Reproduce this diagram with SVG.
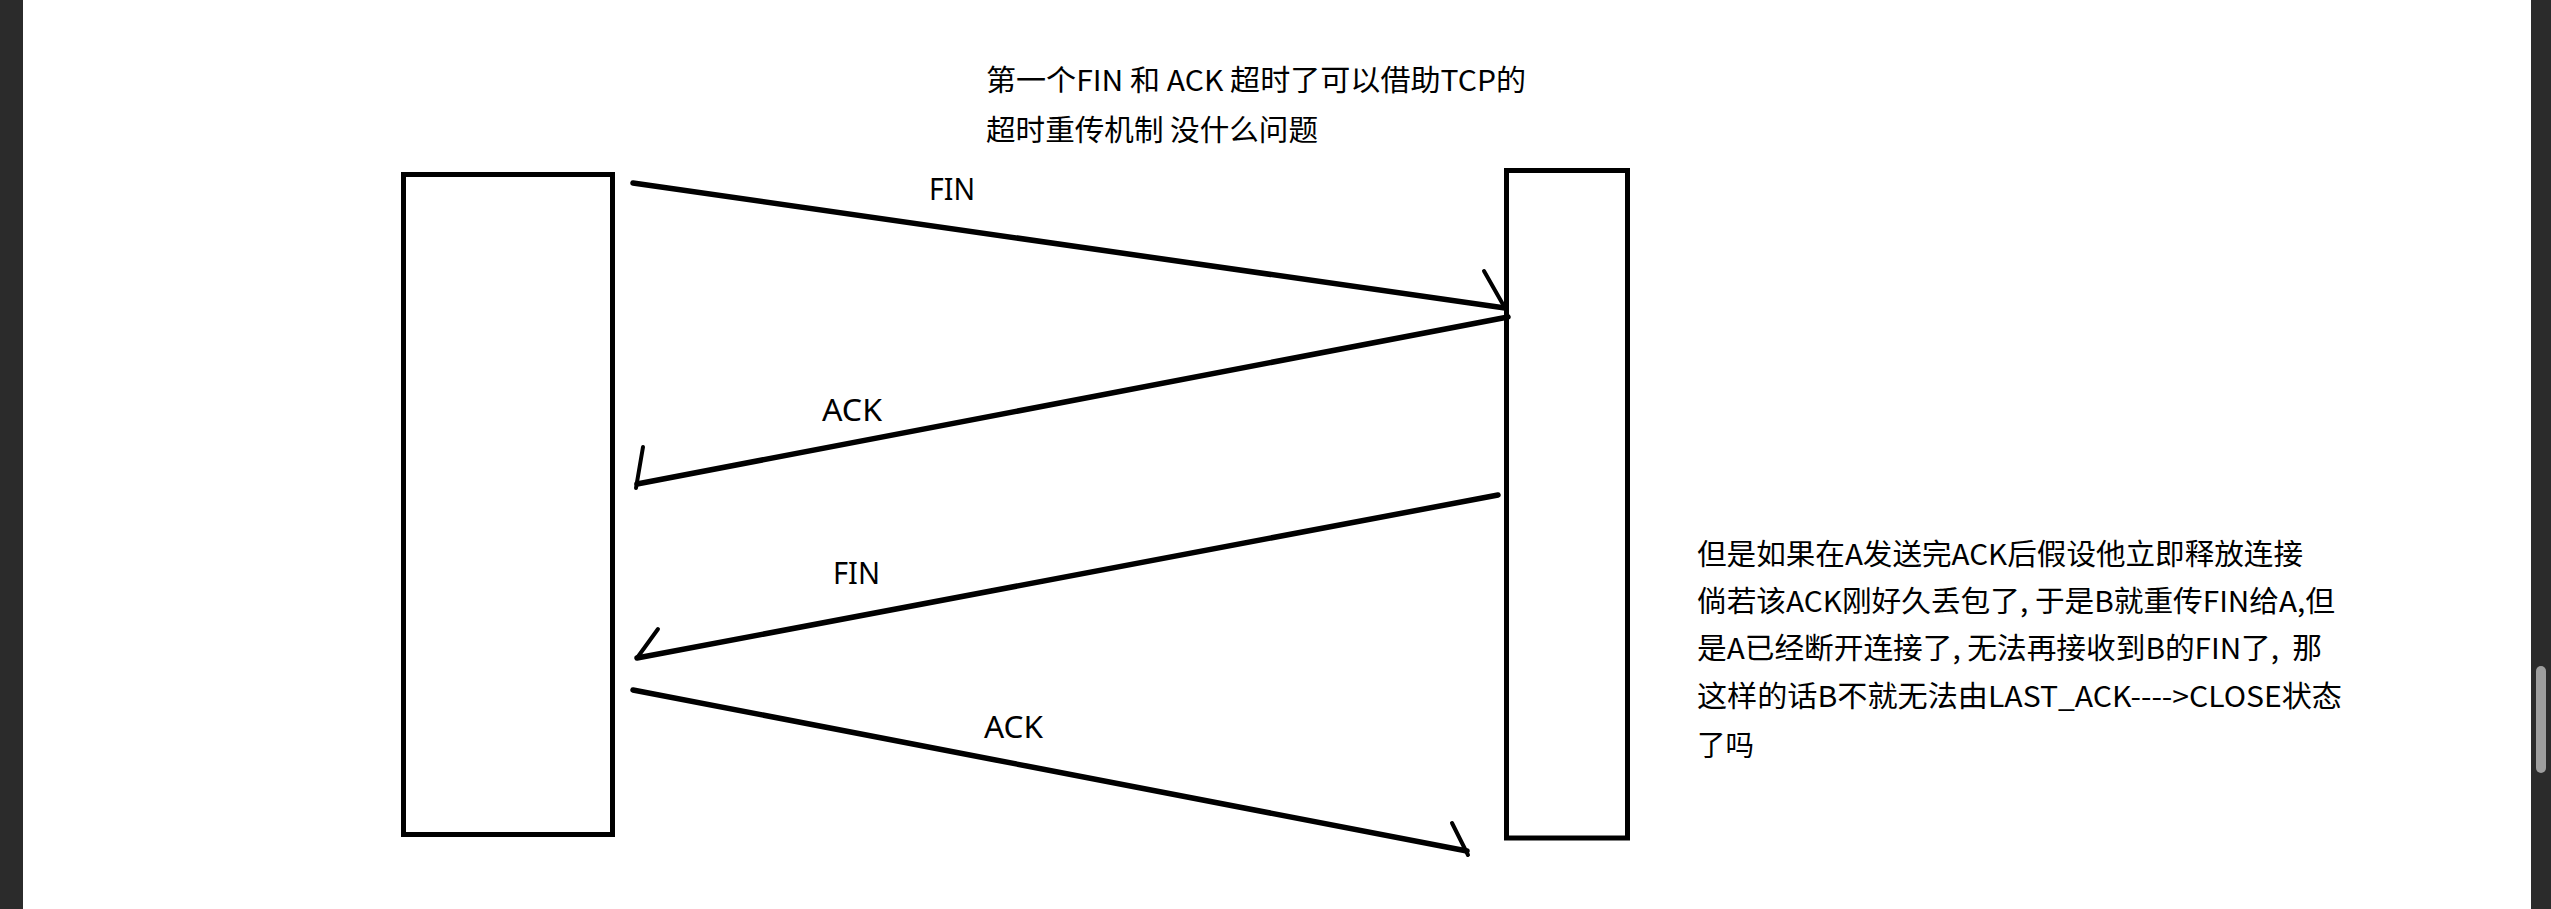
<svg xmlns="http://www.w3.org/2000/svg" width="2551" height="909" viewBox="0 0 2551 909">
<style>
.box{fill:#ffffff;stroke:#000000;stroke-width:5}
.line{fill:none;stroke:#000000;stroke-width:5.5;stroke-linecap:round}
.barb{fill:none;stroke:#000000;stroke-width:4;stroke-linecap:round}
.note{font-family:"Noto Sans CJK SC","Noto Sans",sans-serif;font-size:29px;fill:#000000}
.lbl{font-family:"Noto Sans","Liberation Sans",sans-serif;font-size:30px;fill:#000000}
</style>
<rect x="0" y="0" width="2551" height="909" fill="#ffffff"/>
<rect x="0" y="0" width="23" height="909" fill="#2b2b2b"/>
<rect x="2531" y="0" width="20" height="909" fill="#2b2b2b"/>
<rect x="2536" y="666" width="10" height="107" rx="5" fill="#9e9e9e"/>

<g id="nodeA"><rect class="box" x="403.5" y="174.5" width="209" height="660"/></g>
<g id="nodeB"><rect class="box" x="1506.5" y="170.5" width="121" height="667.5"/></g>

<g id="connectors">
<line class="line" x1="633" y1="183" x2="1505" y2="308"/>
<line class="barb" x1="1484" y1="271" x2="1505" y2="308"/>
<line class="line" x1="1508" y1="317" x2="637" y2="484"/>
<line class="barb" x1="643" y1="447" x2="636" y2="488"/>
<line class="line" x1="1498" y1="495" x2="637" y2="658"/>
<line class="barb" x1="658" y1="629" x2="637" y2="658"/>
<line class="line" x1="633" y1="690" x2="1467" y2="851"/>
<line class="barb" x1="1452" y1="823" x2="1468" y2="855"/>
<text class="lbl" x="929" y="200" textLength="46" lengthAdjust="spacingAndGlyphs">FIN</text>
<text class="lbl" x="822" y="421" textLength="60" lengthAdjust="spacingAndGlyphs">ACK</text>
<text class="lbl" x="833" y="584" textLength="47" lengthAdjust="spacingAndGlyphs">FIN</text>
<text class="lbl" x="984" y="738" textLength="59" lengthAdjust="spacingAndGlyphs">ACK</text>
</g>

<g id="note-top">
<text class="note" x="986" y="91" textLength="540" lengthAdjust="spacingAndGlyphs">第一个FIN 和 ACK 超时了可以借助TCP的</text>
<text class="note" x="986" y="141" textLength="332" lengthAdjust="spacingAndGlyphs">超时重传机制 没什么问题</text>
</g>

<g id="note-right">
<text class="note" x="1697" y="565" textLength="606" lengthAdjust="spacingAndGlyphs">但是如果在A发送完ACK后假设他立即释放连接</text>
<text class="note" x="1697" y="612" textLength="638" lengthAdjust="spacingAndGlyphs">倘若该ACK刚好久丢包了, 于是B就重传FIN给A,但</text>
<text class="note" x="1697" y="659" textLength="625" lengthAdjust="spacingAndGlyphs" xml:space="preserve">是A已经断开连接了, 无法再接收到B的FIN了,  那</text>
<text class="note" x="1697" y="707" textLength="645" lengthAdjust="spacingAndGlyphs">这样的话B不就无法由LAST_ACK----&gt;CLOSE状态</text>
<text class="note" x="1697" y="756" textLength="57" lengthAdjust="spacingAndGlyphs">了吗</text>
</g>
</svg>
